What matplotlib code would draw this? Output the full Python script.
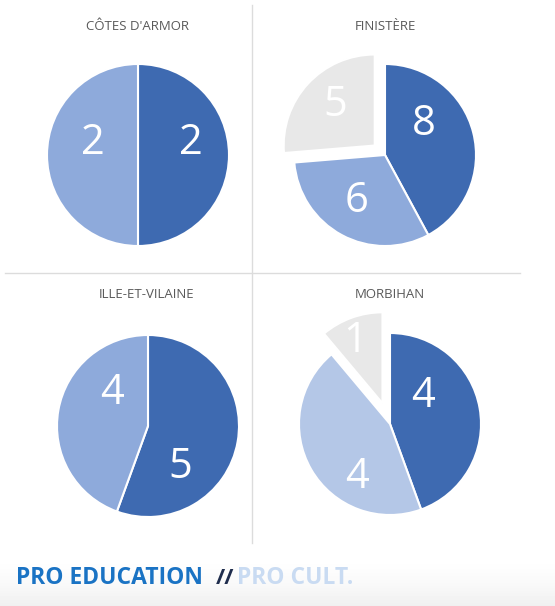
import numpy as np
import matplotlib.pyplot as plt

plt.rcParams['font.family'] = ['Open Sans', 'DejaVu Sans']

titles = ["CÔTES D'ARMOR", "FINISTÈRE", "ILLE-ET-VILAINE", "MORBIHAN"]
values = [
    [2, 2],
    [8, 6, 5],
    [5, 4],
    [4, 4, 1],
]
colors = [
    ["#3e6ab1", "#8eaadb"],
    ["#3e6ab1", "#8eaadb", "#e8e8e8"],
    ["#3e6ab1", "#8eaadb"],
    ["#3e6ab1", "#b4c7e7", "#e8e8e8"],
]
# explode offsets in pixels
explode = [
    [0, 0],
    [0, 0, 14],
    [0, 0],
    [0, 0, 22],
]

W, H = 555, 606
fig = plt.figure(figsize=(W / 100, H / 100), dpi=100)
ax = fig.add_axes([0, 0, 1, 1])

# bottom grey band
grad = np.linspace(0, 1, 50).reshape(-1, 1) ** 1.5
ax.imshow(1 - 0.06 * grad, cmap='gray', vmin=0, vmax=1, extent=[0, W, 0, 50],
          aspect='auto', origin='upper', zorder=0)

# separator lines
ax.plot([252, 252], [H - 5, H - 543], color="#dcdcdc", lw=1)
ax.plot([5, 520], [H - 273, H - 273], color="#dcdcdc", lw=1)

centers = [(138, 155), (385, 155), (148, 426), (390, 424)]
title_pos = [(137, 27), (385, 27), (147, 294), (390, 294)]
# label positions (Excel best-fit placement), pixel coords
label_pos = [
    [(191, 143), (93, 143)],
    [(424, 124), (357, 201), (335, 105)],
    [(180, 467), (112, 393)],
    [(423, 396), (357, 477), (355, 341)],
]
radius = 91

for i in range(4):
    cx, cy = centers[i]
    wedges, texts, autotexts = ax.pie(
        values[i], colors=colors[i], explode=explode[i], startangle=90,
        counterclock=False, center=(cx, H - cy), radius=radius,
        autopct=lambda p, v=values[i]: "%d" % round(p * sum(v) / 100),
        pctdistance=0.55, frame=True,
        wedgeprops=dict(edgecolor='white', linewidth=1.5),
        textprops=dict(color='white', fontsize=30))
    for t, (lx, ly) in zip(autotexts, label_pos[i]):
        t.set_position((lx, H - ly))
    tx, ty = title_pos[i]
    ax.text(tx, H - ty, titles[i], ha='center', va='center', fontsize=9.5,
            color="#595959")

ax.set_xlim(0, W)
ax.set_ylim(0, H)
ax.set_aspect('auto')
ax.axis('off')

ax.text(16, H - 578, "PRO EDUCATION", fontsize=16.5, fontweight='bold',
        color="#1a73c4", va='center', ha='left')
ax.text(216, H - 578, "//", fontsize=16, fontweight='bold',
        color="#1f2d4d", va='center', ha='left')
ax.text(237, H - 578, "PRO CULT.", fontsize=16.5, fontweight='bold',
        color="#c9dbf2", va='center', ha='left')

fig.savefig("out.png", dpi=100)
